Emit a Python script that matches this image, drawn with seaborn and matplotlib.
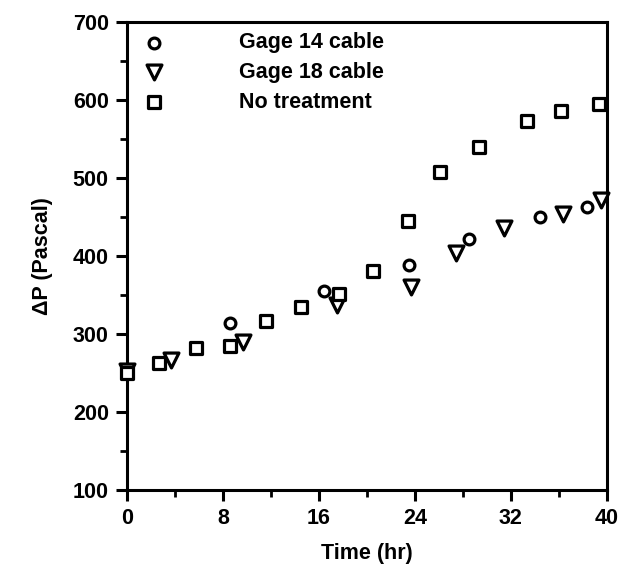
import matplotlib
matplotlib.use("Agg")
import matplotlib.pyplot as plt
import seaborn as sns
import numpy as np
from matplotlib.ticker import MultipleLocator

sns.set_theme(style="white")
plt.rcParams['font.family'] = ['Liberation Sans', 'DejaVu Sans']
plt.rcParams['text.color'] = 'black'
plt.rcParams['axes.labelcolor'] = 'black'

# Data
t_g14 = [0, 8.6, 16.4, 23.5, 28.5, 34.4, 38.3]
p_g14 = [250, 314, 355, 388, 422, 450, 462]
t_g18 = [0, 3.7, 9.7, 17.5, 23.7, 27.4, 31.4, 36.3, 39.5]
p_g18 = [252, 266, 290, 337, 360, 404, 435, 453, 471]
t_nt = [0, 2.7, 5.8, 8.6, 11.6, 14.5, 17.7, 20.5, 23.4, 26.1, 29.3, 33.3, 36.2, 39.3]
p_nt = [250, 263, 282, 284, 316, 334, 351, 381, 445, 508, 540, 573, 585, 594]
labels = ["Gage 14 cable", "Gage 18 cable", "No treatment"]
x_ticks = [0, 8, 16, 24, 32, 40]
y_ticks = [100, 200, 300, 400, 500, 600, 700]

fig = plt.figure(figsize=(6.31, 5.71), dpi=100)
ax = fig.add_axes([0.201, 0.142, 0.761, 0.820])

common = dict(facecolor="white", edgecolor="black", linewidth=2.3, clip_on=False, zorder=3)
sns.scatterplot(x=t_g14, y=p_g14, marker="o", s=60, label=labels[0], ax=ax, **common)
sns.scatterplot(x=t_g18, y=p_g18, marker="v", s=115, label=labels[1], ax=ax, **common)
sns.scatterplot(x=t_nt, y=p_nt, marker="s", s=65, label=labels[2], ax=ax, **common)

ax.set_xlim(0, 40)
ax.set_ylim(100, 700)
ax.set_xticks(x_ticks)
ax.set_yticks(y_ticks)
ax.xaxis.set_minor_locator(MultipleLocator(4))
ax.yaxis.set_minor_locator(MultipleLocator(50))
ax.tick_params(axis="both", which="major", direction="out", length=8, width=2.2,
               labelsize=15.5, color="black", labelcolor="black", pad=5,
               bottom=True, left=True, top=False, right=False)
ax.tick_params(axis="both", which="minor", direction="out", length=5, width=2.0,
               color="black", bottom=True, left=True, top=False, right=False)
for lab in ax.get_xticklabels() + ax.get_yticklabels():
    lab.set_fontweight("bold")

for sp in ax.spines.values():
    sp.set_visible(True)
    sp.set_color("black")
    sp.set_linewidth(2.2)

ax.set_xlabel("Time (hr)", fontsize=15.5, fontweight="bold", labelpad=10, color="black")
ax.set_ylabel("ΔP (Pascal)", fontsize=15.5, fontweight="bold", labelpad=14, color="black")
ax.grid(False)

leg = ax.legend(loc="upper left", bbox_to_anchor=(0.0, 1.0), frameon=False,
                handlelength=1.5, handletextpad=3.2, labelspacing=0.4,
                borderpad=0.5, borderaxespad=0.0,
                prop={"size": 15.5, "weight": "bold"})
for txt in leg.get_texts():
    txt.set_color("black")

fig.savefig("out.png", dpi=100, facecolor="white")
